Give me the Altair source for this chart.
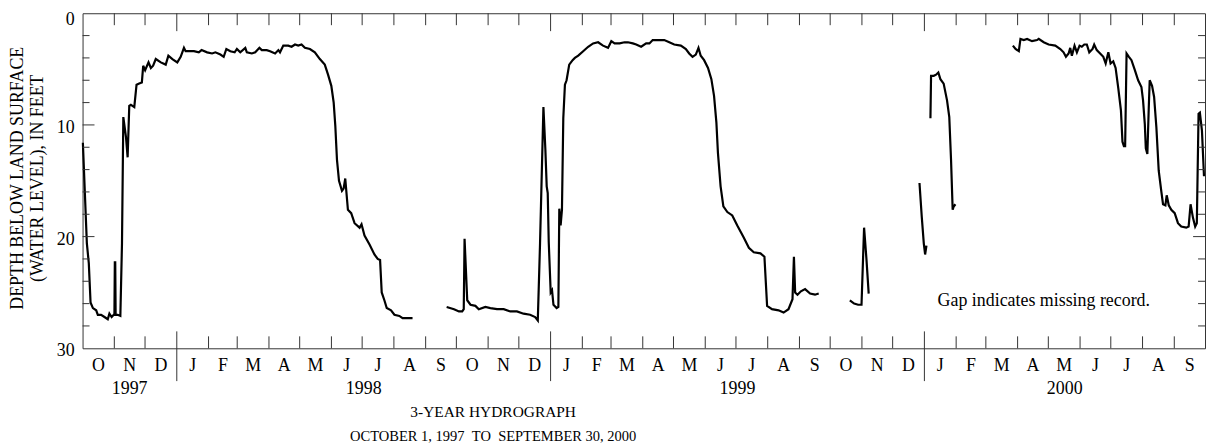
import altair as alt
import pandas as pd

# ---- data: days since 1997-10-01, depth below land surface (ft) ----
day_1 = [0.3, 4.2, 6.1, 7.8, 10.1, 13.3, 14.9, 18.1, 21.4, 24.6, 26.2, 28.4, 30.4, 31.1, 31.5, 31.9, 32.3,
         34.3, 36.9, 38.5, 39.8, 42.4, 44.0, 45.6, 47.2, 50.5, 52.7, 55.3, 57.9, 59.2, 61.1, 64.4, 66.7,
         68.9, 71.5, 76.4, 81.2, 83.8, 87.7, 92.5, 95.8, 99.0, 100.6, 108.7, 113.5, 116.2, 121.6, 126.5,
         129.7, 134.6, 137.8, 140.4, 144.3, 148.5, 150.7, 154.0, 158.9, 160.4, 165.3, 168.6, 172.7, 175.0,
         179.8, 183.1, 188.0, 191.2, 192.8, 196.0, 200.9, 204.1, 207.4, 210.6, 213.8, 217.1, 222.0, 226.8,
         231.7, 236.5, 239.7, 242.9, 245.2, 246.8, 248.4, 250.4, 253.3, 254.9, 256.5, 259.1, 262.3, 265.6,
         270.5, 272.4, 275.3, 280.2, 285.0, 288.2, 290.5, 292.1, 294.7, 297.0, 301.2, 304.5, 309.3, 312.5,
         322.2]
depth_1 = [11.6, 20.6, 22.4, 25.9, 26.4, 26.6, 27.0, 27.0, 27.2, 27.4, 26.9, 27.2, 27.0, 27.0, 22.3, 22.3, 27.0,
           27.0, 27.1, 20.6, 9.3, 11.1, 12.9, 8.3, 8.2, 8.4, 6.4, 6.3, 6.2, 4.7, 5.1, 4.4, 4.9,
           4.7, 4.1, 4.4, 4.6, 3.8, 4.1, 4.4, 3.9, 3.1, 3.4, 3.4, 3.5, 3.3, 3.5, 3.6,
           3.5, 3.7, 3.9, 3.2, 3.4, 3.5, 3.2, 3.5, 3.1, 3.5, 3.6, 3.5, 3.1, 3.3,
           3.3, 3.4, 3.6, 3.3, 3.5, 2.9, 2.9, 3.0, 2.8, 2.9, 2.8, 3.1, 3.2, 3.5,
           4.1, 4.6, 5.5, 6.5, 8.0, 10.1, 13.1, 15.0, 15.9, 15.7, 14.8, 17.6, 17.9, 18.8,
           19.2, 18.9, 19.9, 20.7, 21.6, 22.0, 22.1, 25.0, 25.7, 26.4, 26.6, 27.0, 27.1, 27.3,
           27.3]

day_2 = [355.5, 362.7, 367.5, 370.7, 372.2, 373.0, 375.6, 378.8, 383.6, 386.9, 393.3, 398.2, 404.7, 411.2,
         417.6, 424.1, 430.6, 437.0, 441.9, 444.5, 446.7, 450.0, 451.9, 453.2, 454.2, 455.2, 457.1, 458.4,
         459.8, 462.9, 464.6, 465.5, 466.8, 468.1, 469.4, 471.0, 472.6, 475.2, 478.5, 480.7, 484.0, 488.8,
         493.7, 498.5, 503.4, 508.2, 513.1, 516.3, 519.5, 524.4, 529.2, 532.5, 537.3, 540.6, 545.4, 550.3,
         553.5, 556.7, 561.6, 568.0, 572.9, 577.7, 584.2, 589.1, 592.3, 595.6, 598.8, 601.4, 603.6, 606.9,
         610.7, 614.0, 616.6, 618.9, 620.4, 623.0, 625.7, 629.6, 634.4, 639.3, 645.7, 650.6, 655.4, 661.9,
         665.8, 668.4, 673.2, 679.6, 684.5, 689.3, 693.2, 694.6, 695.8, 698.1, 701.4, 705.5, 710.4, 715.2,
         718.8]
depth_2 = [26.3, 26.5, 26.7, 26.7, 26.5, 20.2, 25.7, 26.1, 26.2, 26.5, 26.3, 26.4, 26.5, 26.5,
           26.7, 26.7, 26.9, 27.0, 27.2, 27.5, 20.6, 8.4, 12.2, 15.5, 16.1, 20.5, 25.0, 24.8,
           26.1, 26.4, 26.3, 17.5, 19.0, 17.6, 9.4, 6.4, 6.0, 4.6, 4.2, 4.0, 3.8, 3.4,
           3.0, 2.7, 2.6, 2.9, 3.1, 2.5, 2.7, 2.7, 2.6, 2.6, 2.7, 2.8, 3.0, 2.7,
           2.7, 2.4, 2.4, 2.4, 2.6, 2.8, 2.9, 3.2, 3.6, 3.9, 3.7, 3.1, 3.8, 4.2,
           4.9, 5.9, 7.4, 9.8, 12.5, 15.5, 17.3, 17.8, 18.1, 19.0, 20.1, 21.0, 21.4, 21.5,
           21.8, 26.2, 26.5, 26.6, 26.8, 26.5, 25.6, 21.8, 25.0, 25.2, 24.9, 24.7, 25.1, 25.2,
           25.1]

day_3 = [749.2, 753.4, 757.3, 760.6, 763.1, 765.4, 767.6]
depth_3 = [25.7, 26.0, 26.1, 26.1, 19.2, 22.0, 25.1]

day_4 = [817.2, 819.4, 821.4, 822.7, 824.0]
depth_4 = [15.2, 18.2, 20.6, 21.6, 20.8]

day_5 = [827.9, 828.5, 831.1, 833.4, 835.6, 837.6, 840.8, 844.1, 846.3, 848.0, 849.6, 850.6, 852.3]
depth_5 = [9.4, 5.6, 5.6, 5.5, 5.3, 5.9, 6.3, 7.8, 9.3, 13.1, 17.6, 17.3, 17.1]

day_6 = [908.4, 911.0, 914.2, 915.8, 919.0, 922.3, 927.1, 932.0, 933.6, 938.5, 943.3, 949.8, 954.7, 957.9,
         960.2, 962.8, 964.4, 966.0, 968.6, 970.9, 973.5, 975.7, 978.1, 980.6, 983.0, 986.2, 987.8, 990.3,
         993.6, 996.7, 999.0, 1001.6, 1003.8, 1006.4, 1008.7, 1011.3, 1013.9, 1015.4, 1016.8, 1018.0, 1019.4,
         1021.7, 1024.2, 1027.5, 1030.7, 1033.9, 1035.5, 1037.2, 1038.2, 1039.7, 1041.1, 1042.0, 1044.3,
         1046.3, 1048.5, 1050.8, 1053.4, 1055.0, 1057.3, 1058.6, 1060.6, 1063.1, 1066.4, 1069.6, 1072.8,
         1077.7, 1080.0, 1081.9, 1084.2, 1086.4, 1088.0, 1089.7, 1091.0, 1093.0, 1095.0]
depth_6 = [2.9, 3.2, 3.4, 2.3, 2.4, 2.3, 2.5, 2.4, 2.3, 2.6, 2.8, 2.9, 3.2, 3.5,
           3.9, 3.6, 3.1, 3.8, 2.9, 3.5, 2.9, 3.0, 2.8, 2.8, 3.5, 3.2, 2.8, 3.3,
           3.6, 3.9, 4.5, 3.5, 4.5, 4.3, 4.9, 6.7, 8.7, 11.5, 11.9, 11.9, 3.6,
           3.9, 4.2, 5.1, 6.0, 6.6, 7.8, 9.9, 12.1, 12.6, 8.4, 6.0, 6.5,
           7.5, 10.2, 14.1, 16.0, 17.1, 17.2, 16.3, 17.2, 17.6, 17.9, 18.8, 19.1,
           19.2, 19.1, 17.1, 18.3, 19.1, 18.8, 9.0, 8.9, 10.5, 14.6]

# calendar: month boundaries (days since 1997-10-01)
month_starts = [0, 31, 61, 92, 123, 151, 182, 212, 243, 273, 304, 335,
                365, 396, 426, 457, 488, 516, 547, 577, 608, 638, 669, 700,
                730, 761, 791, 822, 853, 882, 913, 943, 974, 1004, 1035, 1066, 1096]
month_letters = ["O", "N", "D", "J", "F", "M", "A", "M", "J", "J", "A", "S",
                 "O", "N", "D", "J", "F", "M", "A", "M", "J", "J", "A", "S",
                 "O", "N", "D", "J", "F", "M", "A", "M", "J", "J", "A", "S"]
year_starts = [92, 457, 822]
year_labels = ["1997", "1998", "1999", "2000"]
year_spans = [0, 92, 457, 822, 1096]
y_labels = [10, 20, 30]
y_top_label = [0]
y_minor = [2, 4, 6, 8, 12, 14, 16, 18, 22, 24, 26, 28]
y_major = [10, 20]

# ---- tables ----
segs = [(day_1, depth_1), (day_2, depth_2), (day_3, depth_3),
        (day_4, depth_4), (day_5, depth_5), (day_6, depth_6)]
rows = []
for i, (ds, vs) in enumerate(segs):
    for d, v in zip(ds, vs):
        rows.append({"day": d, "depth": v, "seg": i})
df = pd.DataFrame(rows)

inner = month_starts[1:-1]
month_tick_df = pd.DataFrame({"day": [d for d in inner if d not in year_starts]})
year_tick_df = pd.DataFrame({"day": year_starts})
month_lab_df = pd.DataFrame({
    "day": [(a + b) / 2 for a, b in zip(month_starts[:-1], month_starts[1:])],
    "lab": month_letters})
year_lab_df = pd.DataFrame({
    "day": [(a + b) / 2 for a, b in zip(year_spans[:-1], year_spans[1:])],
    "lab": year_labels})
ylab_df = pd.DataFrame({"depth": y_labels, "lab": [str(v) for v in y_labels]})
ylab0_df = pd.DataFrame({"depth": y_top_label, "lab": [str(v) for v in y_top_label]})
minor_df = pd.DataFrame({"depth": y_minor})
major_df = pd.DataFrame({"depth": y_major})

W, H = 1129, 337
FONT = "Liberation Serif"
TICK = "#333333"

xs = alt.Scale(domain=[0, 1096], nice=False, zero=False)
ys = alt.Scale(domain=[0, 30], reverse=True, nice=False, zero=False)
X = alt.X("day:Q", scale=xs, axis=None)
Yd = alt.Y("depth:Q", scale=ys, axis=None)

line = alt.Chart(df).mark_line(color="black", strokeWidth=2.2).encode(
    x=X, y=Yd, detail="seg:N")

top_m = alt.Chart(month_tick_df).mark_rule(color=TICK, strokeWidth=1).encode(
    x=X, y=alt.value(0), y2=alt.value(12))
bot_m = alt.Chart(month_tick_df).mark_rule(color=TICK, strokeWidth=1).encode(
    x=X, y=alt.value(H), y2=alt.value(H - 12))
top_y = alt.Chart(year_tick_df).mark_rule(color=TICK, strokeWidth=1).encode(
    x=X, y=alt.value(0), y2=alt.value(18))
bot_y = alt.Chart(year_tick_df).mark_rule(color=TICK, strokeWidth=1).encode(
    x=X, y=alt.value(H - 17), y2=alt.value(H + 33))

left_minor = alt.Chart(minor_df).mark_rule(color=TICK, strokeWidth=1).encode(
    y=Yd, x=alt.value(0), x2=alt.value(7))
left_major = alt.Chart(major_df).mark_rule(color=TICK, strokeWidth=1).encode(
    y=Yd, x=alt.value(0), x2=alt.value(12))
right_minor = alt.Chart(minor_df).mark_rule(color=TICK, strokeWidth=1).encode(
    y=Yd, x=alt.value(W), x2=alt.value(W - 7))
right_major = alt.Chart(major_df).mark_rule(color=TICK, strokeWidth=1).encode(
    y=Yd, x=alt.value(W), x2=alt.value(W - 12))

ylab_text = alt.Chart(ylab_df).mark_text(
    font=FONT, fontSize=18, color="black", align="right", baseline="middle", dy=3).encode(
    y=Yd, x=alt.value(-8), text="lab:N")
ylab0_text = alt.Chart(ylab0_df).mark_text(
    font=FONT, fontSize=18, color="black", align="right", baseline="top", dy=-2).encode(
    y=Yd, x=alt.value(-8), text="lab:N")
month_text = alt.Chart(month_lab_df).mark_text(
    font=FONT, fontSize=18, color="black", align="center", baseline="alphabetic").encode(
    x=X, y=alt.value(360), text="lab:N")
year_text = alt.Chart(year_lab_df).mark_text(
    font=FONT, fontSize=18, color="black", align="center", baseline="alphabetic").encode(
    x=X, y=alt.value(383), text="lab:N")

def label(txt, x, y, size, align="center", angle=0, baseline="alphabetic"):
    return alt.Chart(pd.DataFrame({"t": [txt]})).mark_text(
        font=FONT, fontSize=size, color="black", align=align, angle=angle,
        baseline=baseline).encode(x=alt.value(x), y=alt.value(y), text="t:N")

t1 = label("3-YEAR HYDROGRAPH", 413, 406, 15.5)
t2 = label("OCTOBER 1, 1997 \u00a0TO\u00a0 SEPTEMBER 30, 2000", 413, 430, 14.6)
yt1 = label("DEPTH BELOW LAND SURFACE", -65, 166, 18, angle=270, baseline="middle")
yt2 = label("(WATER LEVEL), IN FEET", -45, 166, 18, angle=270, baseline="middle")
gap = label("Gap indicates missing record.", 860, 294, 18, align="left")

chart = alt.layer(
    line, top_m, bot_m, top_y, bot_y, left_minor, left_major, right_minor, right_major,
    ylab_text, ylab0_text, month_text, year_text, t1, t2, yt1, yt2, gap,
).properties(
    width=W, height=H,
    autosize=alt.AutoSizeParams(type="none"),
    padding={"left": 75, "top": 4, "right": 2, "bottom": 96},
    background="white",
).configure_view(stroke=TICK, strokeWidth=1)

chart.save("out.html", embed_options={"renderer": "svg", "actions": False})
